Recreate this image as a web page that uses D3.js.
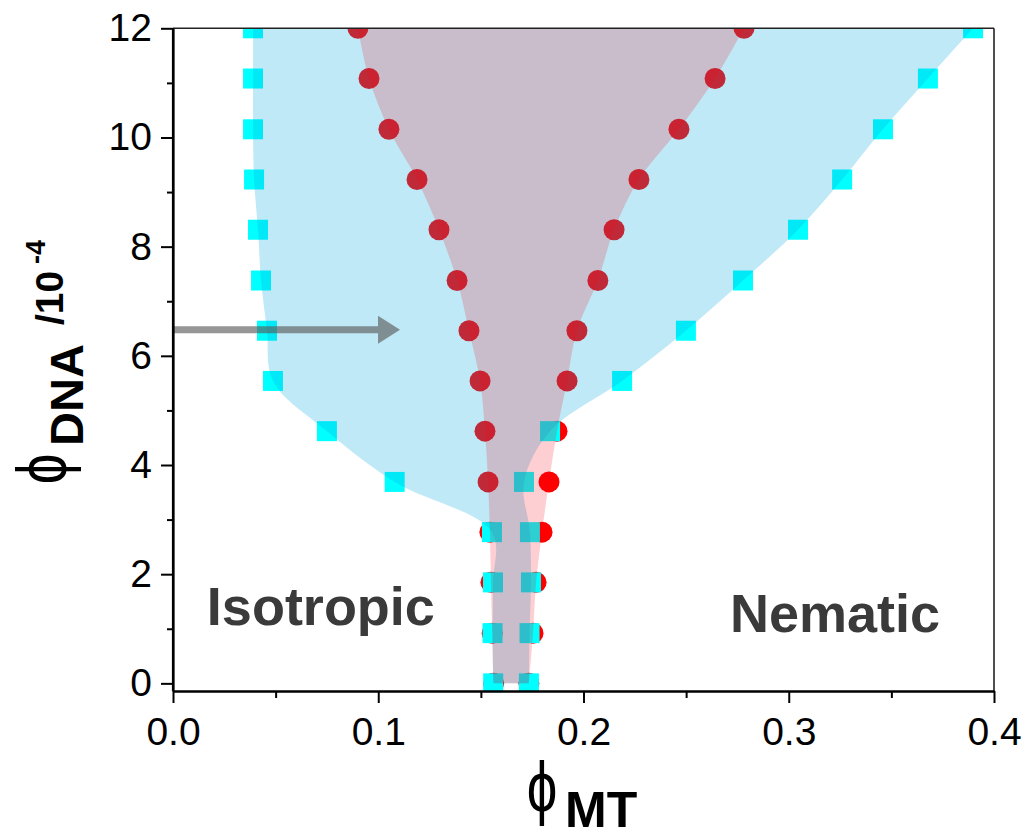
<!DOCTYPE html>
<html>
<head>
<meta charset="utf-8">
<script src="https://cdn.jsdelivr.net/npm/d3@7"></script>
<style>
  html, body { margin: 0; padding: 0; background: #fff; }
  svg { display: block; }
  text { font-family: "Liberation Sans", Arial, sans-serif; }
</style>
</head>
<body>
<script>
// ---------------- data ----------------
const phiDNA      = [0, 0.92, 1.85, 2.77, 3.69, 4.62, 5.54, 6.46, 7.38, 8.31, 9.23, 10.15, 11.08, 12.0];
// cyan squares: isotropic / biphasic boundary (left) and biphasic / nematic boundary (right)
const isoBoundary = [0.1560, 0.1557, 0.1559, 0.1554, 0.1080, 0.0750, 0.0487, 0.0458, 0.0429, 0.0414, 0.0395, 0.0390, 0.0390, 0.0390];
const nemBoundary = [0.1734, 0.1737, 0.1744, 0.1739, 0.1710, 0.1837, 0.2188, 0.2499, 0.2777, 0.3045, 0.3260, 0.3459, 0.3678, 0.3898];
// red circles: left and right boundaries of the red region
const redLeft     = [0.1562, 0.1555, 0.1549, 0.1544, 0.1535, 0.1520, 0.1496, 0.1442, 0.1384, 0.1296, 0.1189, 0.1052, 0.0955, 0.0901];
const redRight    = [0.1734, 0.1754, 0.1769, 0.1798, 0.1832, 0.1871, 0.1920, 0.1968, 0.2070, 0.2149, 0.2270, 0.2465, 0.2641, 0.2782];
// arrow (phi_MT start, tip; phi_DNA level)
const arrowFrom = [0.0, 6.48];
const arrowTo   = [0.1106, 6.48];
// axis ticks
const xMajor = [0, 0.1, 0.2, 0.3, 0.4];
const xMinor = [0.05, 0.15, 0.25, 0.35];
const yMajor = [0, 2, 4, 6, 8, 10, 12];
const yMinor = [1, 3, 5, 7, 9, 11];
// region labels [text, phiMT, phiDNA]
const regionLabels = [["Isotropic", 0.0165, 1.07], ["Nematic", 0.2714, 0.94]];

// ---------------- layout ----------------
const W = 1028, H = 838;
const L = 173, R = 994, T = 28.3, B = 691;

const x = d3.scaleLinear().domain([0, 0.4]).range([L, R]);
const y = d3.scaleLinear().domain([-0.14, 12]).range([B, T]);

const svg = d3.select("body").append("svg")
  .attr("width", W).attr("height", H)
  .attr("viewBox", `0 0 ${W} ${H}`);

svg.append("rect").attr("width", W).attr("height", H).attr("fill", "#fff");

svg.append("defs").append("clipPath").attr("id", "plotclip")
  .append("rect").attr("x", L).attr("y", T).attr("width", R - L).attr("height", B - T);

const plot = svg.append("g").attr("clip-path", "url(#plotclip)");

const rows = phiDNA.map((v, i) => ({
  v, il: isoBoundary[i], ir: nemBoundary[i], rl: redLeft[i], rr: redRight[i]
}));

// markers first (fills are translucent on top)
plot.append("g").selectAll("circle")
  .data(rows.flatMap(d => [[d.rl, d.v], [d.rr, d.v]]))
  .join("circle")
  .attr("cx", d => x(d[0])).attr("cy", d => y(d[1]))
  .attr("r", 10.5).attr("fill", "#ff0000");

const sq = 20;
plot.append("g").selectAll("rect")
  .data(rows.flatMap(d => [[d.il, d.v], [d.ir, d.v]]))
  .join("rect")
  .attr("x", d => x(d[0]) - sq / 2).attr("y", d => y(d[1]) - sq / 2)
  .attr("width", sq).attr("height", sq).attr("fill", "#00ffff");

const curve = d3.curveCatmullRom.alpha(0.5);
const blueArea = d3.area().curve(curve)
  .y(d => y(d.v)).x0(d => x(d.il)).x1(d => x(d.ir));
const redArea = d3.area().curve(curve)
  .y(d => y(d.v)).x0(d => x(d.rl)).x1(d => x(d.rr));

plot.append("path").attr("d", blueArea(rows))
  .attr("fill", "rgb(3,167,223)").attr("fill-opacity", 0.25);
plot.append("path").attr("d", redArea(rows))
  .attr("fill", "rgb(245,0,18)").attr("fill-opacity", 0.19);

// arrow
const ax0 = x(arrowFrom[0]), ax1 = x(arrowTo[0]), ay = y(arrowFrom[1]);
const headLen = 22, headHalf = 14, shaftHalf = 3.5;
plot.append("path")
  .attr("d", `M${ax0},${ay - shaftHalf} L${ax1 - headLen},${ay - shaftHalf} L${ax1 - headLen},${ay - headHalf} L${ax1},${ay} L${ax1 - headLen},${ay + headHalf} L${ax1 - headLen},${ay + shaftHalf} L${ax0},${ay + shaftHalf} Z`)
  .attr("fill", "rgb(90,90,90)").attr("fill-opacity", 0.635);

// frame (top/right)
svg.append("line").attr("x1", L).attr("x2", R).attr("y1", T).attr("y2", T)
  .attr("stroke", "#222").attr("stroke-width", 1.6);
svg.append("line").attr("x1", R).attr("x2", R).attr("y1", T).attr("y2", B)
  .attr("stroke", "#222").attr("stroke-width", 1.6);

// axes
const fmtX = d3.format(".1f");
const xAxis = svg.append("g").attr("transform", `translate(0,${B})`)
  .call(d3.axisBottom(x).tickValues(xMajor).tickFormat(fmtX).tickSize(12).tickSizeOuter(0).tickPadding(14));
const xAxisMinor = svg.append("g").attr("transform", `translate(0,${B})`)
  .call(d3.axisBottom(x).tickValues(xMinor).tickFormat("").tickSize(7).tickSizeOuter(0));
const yAxis = svg.append("g").attr("transform", `translate(${L},0)`)
  .call(d3.axisLeft(y).tickValues(yMajor).tickFormat(d3.format("d")).tickSize(12).tickSizeOuter(0).tickPadding(9));
const yAxisMinor = svg.append("g").attr("transform", `translate(${L},0)`)
  .call(d3.axisLeft(y).tickValues(yMinor).tickFormat("").tickSize(6).tickSizeOuter(0));

[xAxis, xAxisMinor, yAxis, yAxisMinor].forEach(g => {
  g.selectAll("path.domain").attr("stroke", "#000").attr("stroke-width", 2.2);
  g.selectAll(".tick line").attr("stroke", "#000").attr("stroke-width", 2);
  g.selectAll("text").attr("font-size", 39).attr("fill", "#000")
    .attr("font-family", '"Liberation Sans", Arial, sans-serif');
});
yAxis.select("path.domain").attr("d", `M0,${T}V${B}`);

// region labels
svg.append("g").selectAll("text").data(regionLabels).join("text")
  .attr("x", d => x(d[1])).attr("y", d => y(d[2]))
  .attr("font-size", 54).attr("font-weight", "bold").attr("fill", "#3a3a3a")
  .text(d => d[0]);

const phiFont = '"DejaVu Sans", sans-serif';

// x axis title: phi_MT
const xt = svg.append("g");
xt.append("g").attr("transform", "translate(542,811) scale(0.78,1)")
  .append("text").attr("text-anchor", "middle").attr("font-size", 70)
  .attr("font-family", phiFont).attr("fill", "#000").text("ϕ");
xt.append("text").attr("x", 565).attr("y", 827).attr("font-size", 50).attr("font-weight", "bold").attr("fill", "#000").text("MT");

// y axis title: phi_DNA /10^-4
const yt = svg.append("g").attr("transform", "rotate(-90)");
yt.append("g").attr("transform", "translate(-469,66) scale(0.78,1)")
  .append("text").attr("text-anchor", "middle").attr("font-size", 70)
  .attr("font-family", phiFont).attr("fill", "#000").text("ϕ");
yt.append("text").attr("x", -446).attr("y", 83).attr("font-size", 47).attr("font-weight", "bold").attr("fill", "#000").text("DNA");
yt.append("text").attr("x", -325).attr("y", 63).attr("font-size", 39).attr("font-weight", "bold").attr("fill", "#000").text("/10");
yt.append("text").attr("x", -264).attr("y", 45).attr("font-size", 27).attr("font-weight", "bold").attr("fill", "#000").text("-4");
</script>
</body>
</html>
